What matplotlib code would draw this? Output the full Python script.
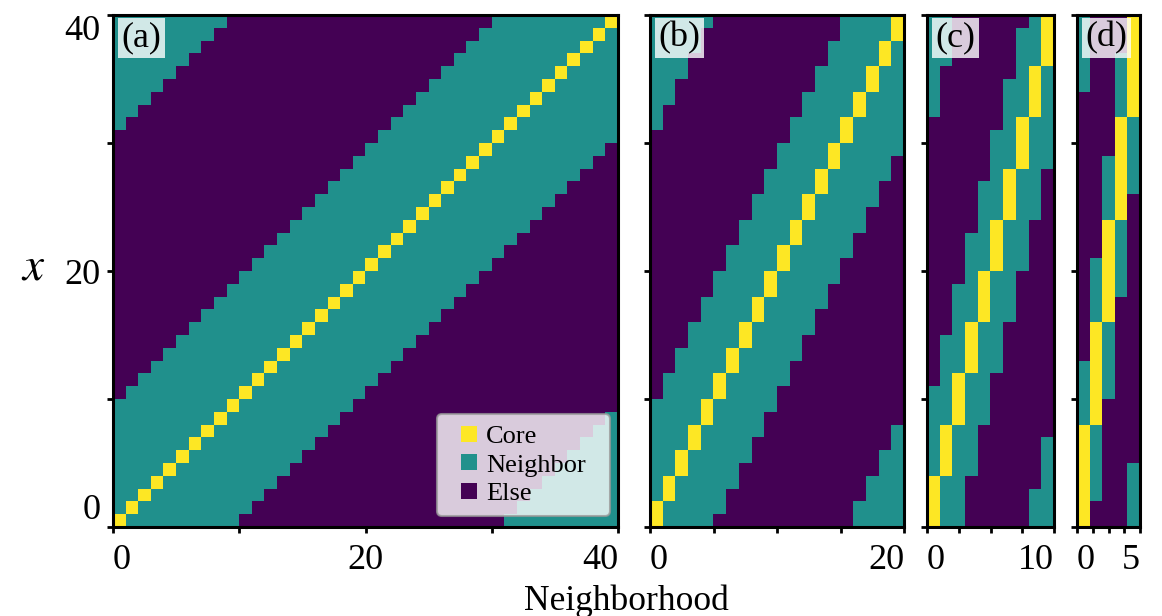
"""Core / neighbor / else maps for four coarse-graining levels."""

import numpy as np
import matplotlib

matplotlib.use("Agg")
import matplotlib.pyplot as plt
from matplotlib.lines import Line2D

plt.rcParams["font.family"] = ["Liberation Serif", "DejaVu Serif"]
plt.rcParams["mathtext.fontset"] = "stix"

# --- data ------------------------------------------------------------------
n_sites = 40                        # rows (x)
n_cols = [40, 20, 10, 5]            # columns (neighborhood) per panel
reach_below = [9, 9, 8, 6]          # neighbor rows below the core block
reach_above = [9, 8, 7, 5]          # neighbor rows above the core block
panel_labels = ["(a)", "(b)", "(c)", "(d)"]
x_tick_labels = [
    ["0", "", "20", "", "40"],
    ["0", "", "", "", "20"],
    ["0", "", "", "", "10"],
    ["0", "", "", "", "5"],
]
y_tick_labels = ["0", "", "20", "", "40"]
categories = ["Else", "Neighbor", "Core"]   # codes 0, 1, 2
legend_order = ["Core", "Neighbor", "Else"]

# --- layout (pixels of the 1162x616 canvas) ---------------------------------
W, H = 1162, 616
AX_TOP, AX_BOTTOM = 15, 527
AX_LR = [(113, 618), (650, 904), (927, 1054), (1077, 1140)]
LEG_LEFT, LEG_RIGHT, LEG_BOTTOM = 437, 610, 516

cmap = plt.get_cmap("viridis")
colors = {name: cmap(code / 2) for code, name in enumerate(categories)}


def build_grid(ncol, below, above):
    block = n_sites // ncol
    grid = np.zeros((n_sites, ncol), dtype=int)
    for j in range(ncol):
        start = j * block
        for r in range(start - below, start):
            grid[r % n_sites, j] = 1
        for r in range(start + block, start + block + above):
            grid[r % n_sites, j] = 1
        grid[start:start + block, j] = 2
    return grid


fig = plt.figure(figsize=(W / 100, H / 100), dpi=100)

for k, ncol in enumerate(n_cols):
    left, right = AX_LR[k]
    ax = fig.add_axes([left / W, (H - AX_BOTTOM) / H,
                       (right - left) / W, (AX_BOTTOM - AX_TOP) / H])
    grid = build_grid(ncol, reach_below[k], reach_above[k])
    ax.imshow(grid, origin="lower", extent=[0, ncol, 0, n_sites],
              aspect="auto", cmap=cmap, vmin=0, vmax=2,
              interpolation="nearest")
    ax.set_xlim(0, ncol)
    ax.set_ylim(0, n_sites)

    ax.set_xticks(np.linspace(0, ncol, 5))
    ax.set_xticklabels(x_tick_labels[k])
    ax.set_yticks(np.linspace(0, n_sites, 5))
    ax.set_yticklabels(y_tick_labels if k == 0 else [""] * 5)
    ax.tick_params(direction="out", length=4.5, width=2, labelsize=26)
    ax.tick_params(axis="x", pad=7.5)
    ax.tick_params(axis="y", pad=4.5)
    xl = ax.get_xticklabels()
    xl[0].set_horizontalalignment("left")
    xl[-1].set_horizontalalignment("right")
    yl = ax.get_yticklabels()
    yl[0].set_verticalalignment("bottom")
    yl[-1].set_verticalalignment("top")
    for sp in ax.spines.values():
        sp.set_linewidth(2.2)

    ax.annotate(panel_labels[k], xy=(0, 1), xycoords="axes fraction",
                xytext=(6.3, -4.5), textcoords="offset points",
                ha="left", va="top", fontsize=26, zorder=5,
                bbox=dict(boxstyle="square,pad=0.1", fc="white",
                          ec="none", alpha=0.8))

    if k == 0:
        handles = [Line2D([], [], marker="s", linestyle="none",
                          markersize=11, markeredgewidth=0,
                          color=colors[name]) for name in legend_order]
        aw = right - left
        ah = AX_BOTTOM - AX_TOP
        leg = ax.legend(handles, legend_order, loc="lower left",
                        bbox_to_anchor=((LEG_LEFT - left) / aw,
                                        (AX_BOTTOM - LEG_BOTTOM) / ah,
                                        (LEG_RIGHT - LEG_LEFT) / aw, 0),
                        mode="expand", borderaxespad=0, fontsize=19,
                        borderpad=0.4, handlelength=1.6,
                        handletextpad=-0.15, labelspacing=0.2,
                        framealpha=0.8)
        leg.get_frame().set_edgecolor("0.6")
        leg.get_frame().set_linewidth(1.5)

fig.text(626.5 / W, 6 / H, "Neighborhood", fontsize=25.5,
         ha="center", va="baseline")
fig.text(33 / W, 1 - 268 / H, "$x$", fontsize=34, ha="center", va="center")

fig.savefig("out.png", dpi=100)
plt.close(fig)
